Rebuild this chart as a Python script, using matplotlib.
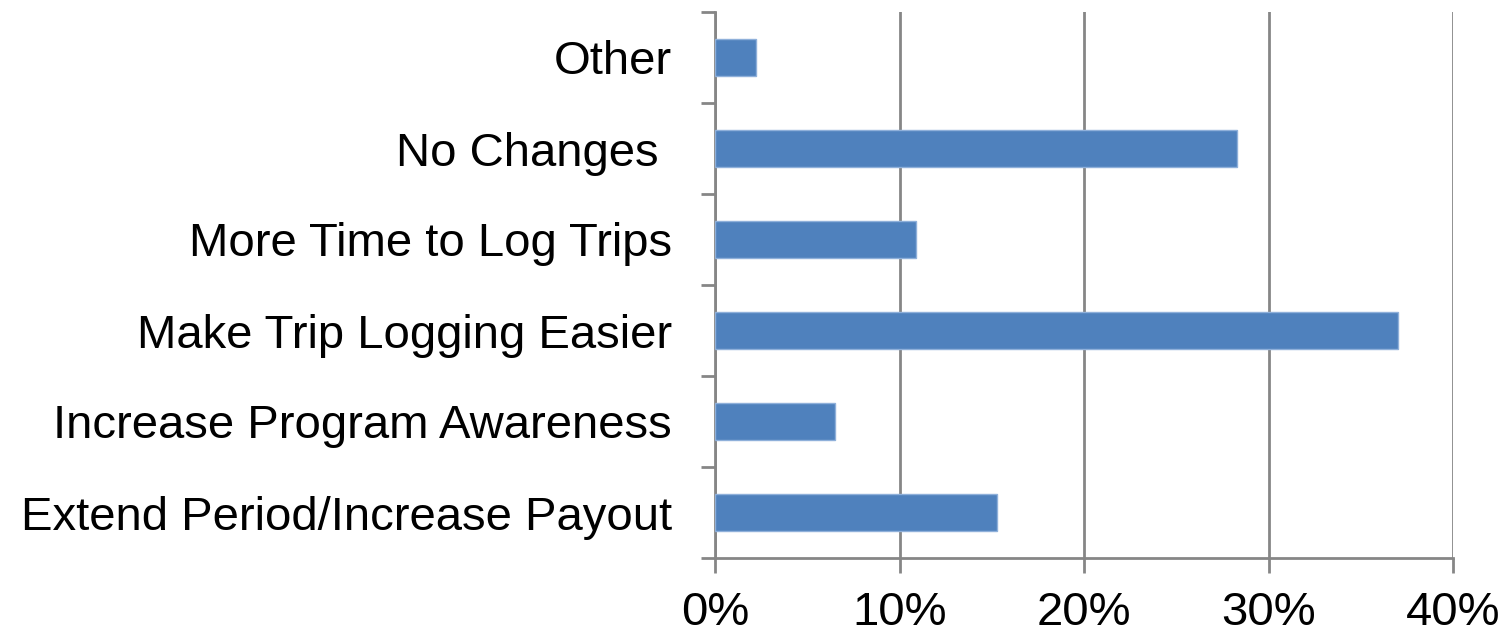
import matplotlib
matplotlib.use("Agg")
import matplotlib.pyplot as plt
from matplotlib.ticker import FixedLocator, PercentFormatter

categories = ["Extend Period/Increase Payout", "Increase Program Awareness",
              "Make Trip Logging Easier", "More Time to Log Trips",
              "No Changes ", "Other"]
values = [15.3, 6.5, 37.0, 10.9, 28.3, 2.2]
x_ticks = [0, 10, 20, 30, 40]

plt.rcParams['font.family'] = ['Liberation Sans', 'DejaVu Sans']

W, H = 1506, 637
fig = plt.figure(figsize=(W / 100, H / 100), dpi=100)
ax = fig.add_axes([715 / W, 1 - 558 / H, (1453 - 715) / W, (558 - 12) / H])

grid_c = "#868686"
ypos = list(range(len(categories)))
ax.barh(ypos, values, height=0.4, color="#4F81BD", edgecolor="#8FB0DA",
        linewidth=1.0, zorder=3)

ax.set_xlim(0, 40)
ax.set_ylim(-0.5, len(categories) - 0.5)
ax.set_xticks(x_ticks)
ax.xaxis.set_major_formatter(PercentFormatter(decimals=0))
ax.grid(axis="x", color=grid_c, linewidth=2, zorder=0)

ax.set_yticks(ypos)
ax.set_yticklabels(categories)
ax.yaxis.set_minor_locator(FixedLocator([i - 0.5 for i in range(len(categories) + 1)]))
ax.tick_params(axis="y", which="major", length=0, pad=31, labelsize=34)
ax.tick_params(axis="y", which="minor", length=10, width=2, color=grid_c, direction="out")
ax.tick_params(axis="x", which="major", length=11, width=2, color=grid_c,
               direction="out", pad=13, labelsize=34)

for s in ["top", "right"]:
    ax.spines[s].set_visible(False)
for s in ["left", "bottom"]:
    ax.spines[s].set_color(grid_c)
    ax.spines[s].set_linewidth(2)

fig.savefig("out.png", dpi=100)
